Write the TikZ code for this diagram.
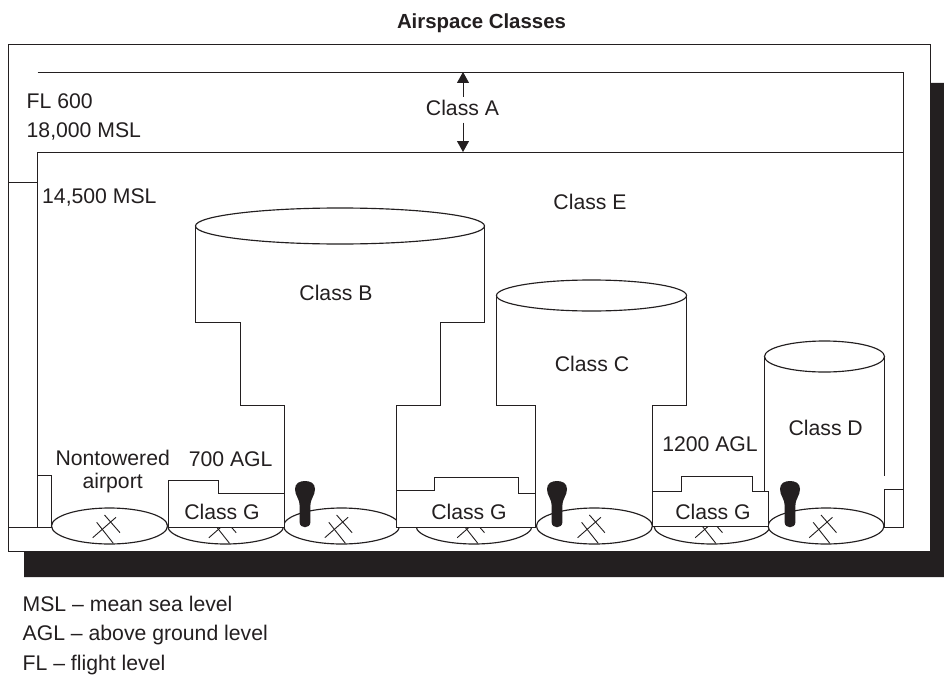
\documentclass[tikz,border=0pt]{standalone}
\usepackage{fontspec}
\setmainfont{Liberation Sans}
\usetikzlibrary{arrows.meta}
\definecolor{ink}{HTML}{231F20}
\tikzset{
  ln/.style={draw=ink,line width=1.15pt,line join=miter},
  thin ln/.style={draw=ink,line width=0.9pt},
  lab/.style={anchor=base,inner sep=0pt,text=ink,font=\fontsize{21.2}{24}\selectfont},
  labw/.style={lab,anchor=base west},
  ttl/.style={anchor=base,inner sep=0pt,text=ink,font=\fontsize{20.4}{24}\selectfont\bfseries},
  updown/.style={draw=ink,line width=0.9pt,-{Triangle[length=11pt,width=12pt]}},
  runway/.pic={
    \draw[ln,fill=white] (0,0) ellipse [x radius=58pt,y radius=18pt];
    \draw[thin ln] (-16.8,11.7) -- (6.5,-8.7);
    \draw[thin ln] (-12.8,-3.7) -- (3.8,17.3);
    \draw[thin ln] (-5,-11) -- (10.5,6.7);
  },
  tower/.pic={
    \fill[ink] (-5.4,41) -- (-5.4,25)
      .. controls (-5.4,17) and (-10,15) .. (-10,8)
      .. controls (-10,2) and (-5,0) .. (0,0)
      .. controls (5,0) and (10,2) .. (10,8)
      .. controls (10,15) and (5.4,17) .. (5.4,25)
      -- (5.4,41) .. controls (5.4,48) and (-5.4,48) .. (-5.4,41) -- cycle;
  }
}
\begin{document}
\begin{tikzpicture}[x=1pt,y=-1pt]
\useasboundingbox (0,0) rectangle (944,674);
\fill[white] (0,0) rectangle (944,674);
% shadow and frame
\fill[ink] (24,551) -- (930,551) -- (930,83) -- (944,83) -- (944,577) -- (24,577) -- cycle;
\draw[ln] (8.5,527.5) -- (8.5,44.5) -- (930.5,44.5) -- (930.5,551.5) -- (8.5,551.5) -- (8.5,527.5);
% upper boundaries
\draw[ln] (37.5,72.5) -- (903.5,72.5) -- (903.5,527.5);
\draw[ln] (37.5,527.5) -- (37.5,152.5) -- (903.5,152.5);
\draw[thin ln] (8.5,182.5) -- (37.5,182.5);
% ground and side boxes
\draw[ln] (8.5,527.5) -- (52,527.5);
\draw[ln] (37.5,475.5) -- (51.5,475.5) -- (51.5,527.5);
\draw[ln] (884.5,527.5) -- (884.5,489.5) -- (903.5,489.5);
\draw[ln] (884.5,527.5) -- (903.5,527.5);
% airports
\foreach \cx/\nm in {109.5/a,225.7/b,341.6/c,474/d,594.4/e,712/f,826/g}
  \pic (rw\nm) at (\cx,526) {runway};
% Class B
\draw[ln] (195.5,226) -- (195.5,322.5) -- (240.5,322.5) -- (240.5,405.5) -- (284.5,405.5) -- (284.5,527);
\draw[ln] (484.5,226) -- (484.5,322.5) -- (440.5,322.5) -- (440.5,405.5) -- (396.5,405.5) -- (396.5,527);
\draw[ln] (340,226) ellipse [x radius=144.5pt,y radius=18pt];
% Class C
\draw[ln] (496.5,295.5) -- (496.5,405.5) -- (535.5,405.5) -- (535.5,527);
\draw[ln] (686.5,295.5) -- (686.5,405.5) -- (652.5,405.5) -- (652.5,527);
\draw[ln] (591.5,295.5) ellipse [x radius=95pt,y radius=15.5pt];
% Class D
\draw[ln] (764.5,356.5) -- (764.5,491.5);
\draw[ln] (884.5,356.5) -- (884.5,476);
\draw[ln] (824.5,356.5) ellipse [x radius=60pt,y radius=15.5pt];
% Class G boxes
\draw[ln,fill=white] (168.5,527.5) -- (168.5,480.5) -- (218.5,480.5) -- (218.5,493.5) -- (284.5,493.5) -- (284.5,527.5) -- cycle;
\draw[ln,fill=white] (396.5,527.5) -- (396.5,490.5) -- (434.5,490.5) -- (434.5,477.5) -- (518.5,477.5) -- (518.5,493.5) -- (535.5,493.5) -- (535.5,527.5) -- cycle;
\draw[ln,fill=white] (652.5,526.5) -- (652.5,491.5) -- (681.5,491.5) -- (681.5,476.5) -- (752.5,476.5) -- (752.5,491.5) -- (768.5,491.5) -- (768.5,526.5) -- cycle;
% towers
\foreach \tx/\nm in {305/a,557/b,790/c}
  \pic (tw\nm) at (\tx,481) {tower};
% labels
\node[ttl] (title) at (481.5,28.5) {Airspace Classes};
\node[labw] (fl) at (26.5,108.3) {FL 600};
\node[labw] (msl18) at (26.5,137.3) {18,000 MSL};
\node[labw] (msl14) at (42,203.3) {14,500 MSL};
\node[lab] (classA) at (462.5,115) {Class A};
\node[lab] (classE) at (590,209) {Class E};
\node[lab] (classB) at (336,300) {Class B};
\node[lab] (classC) at (592,371.7) {Class C};
\node[lab] (classD) at (825.7,435.7) {Class D};
\node[lab] (agl12) at (710,451) {1200 AGL};
\node[lab] (agl7) at (230.7,466.7) {700 AGL};
\node[lab] (nont) at (112.7,465) {Nontowered};
\node[lab] (airp) at (112.7,488) {airport};
\node[lab] (g1) at (222,519) {Class G};
\node[lab] (g2) at (469,519) {Class G};
\node[lab] (g3) at (713,519) {Class G};
\node[labw] (lg1) at (22.5,611.7) {MSL – mean sea level};
\node[labw] (lg2) at (22.5,640) {AGL – above ground level};
\node[labw] (lg3) at (22.5,670) {FL – flight level};
% Class A arrows
\coordinate (atop) at (463,72);
\coordinate (abot) at (463,152);
\draw[updown] (463,97) -- (atop);
\draw[updown] (463,122.7) -- (abot);
\end{tikzpicture}
\end{document}
